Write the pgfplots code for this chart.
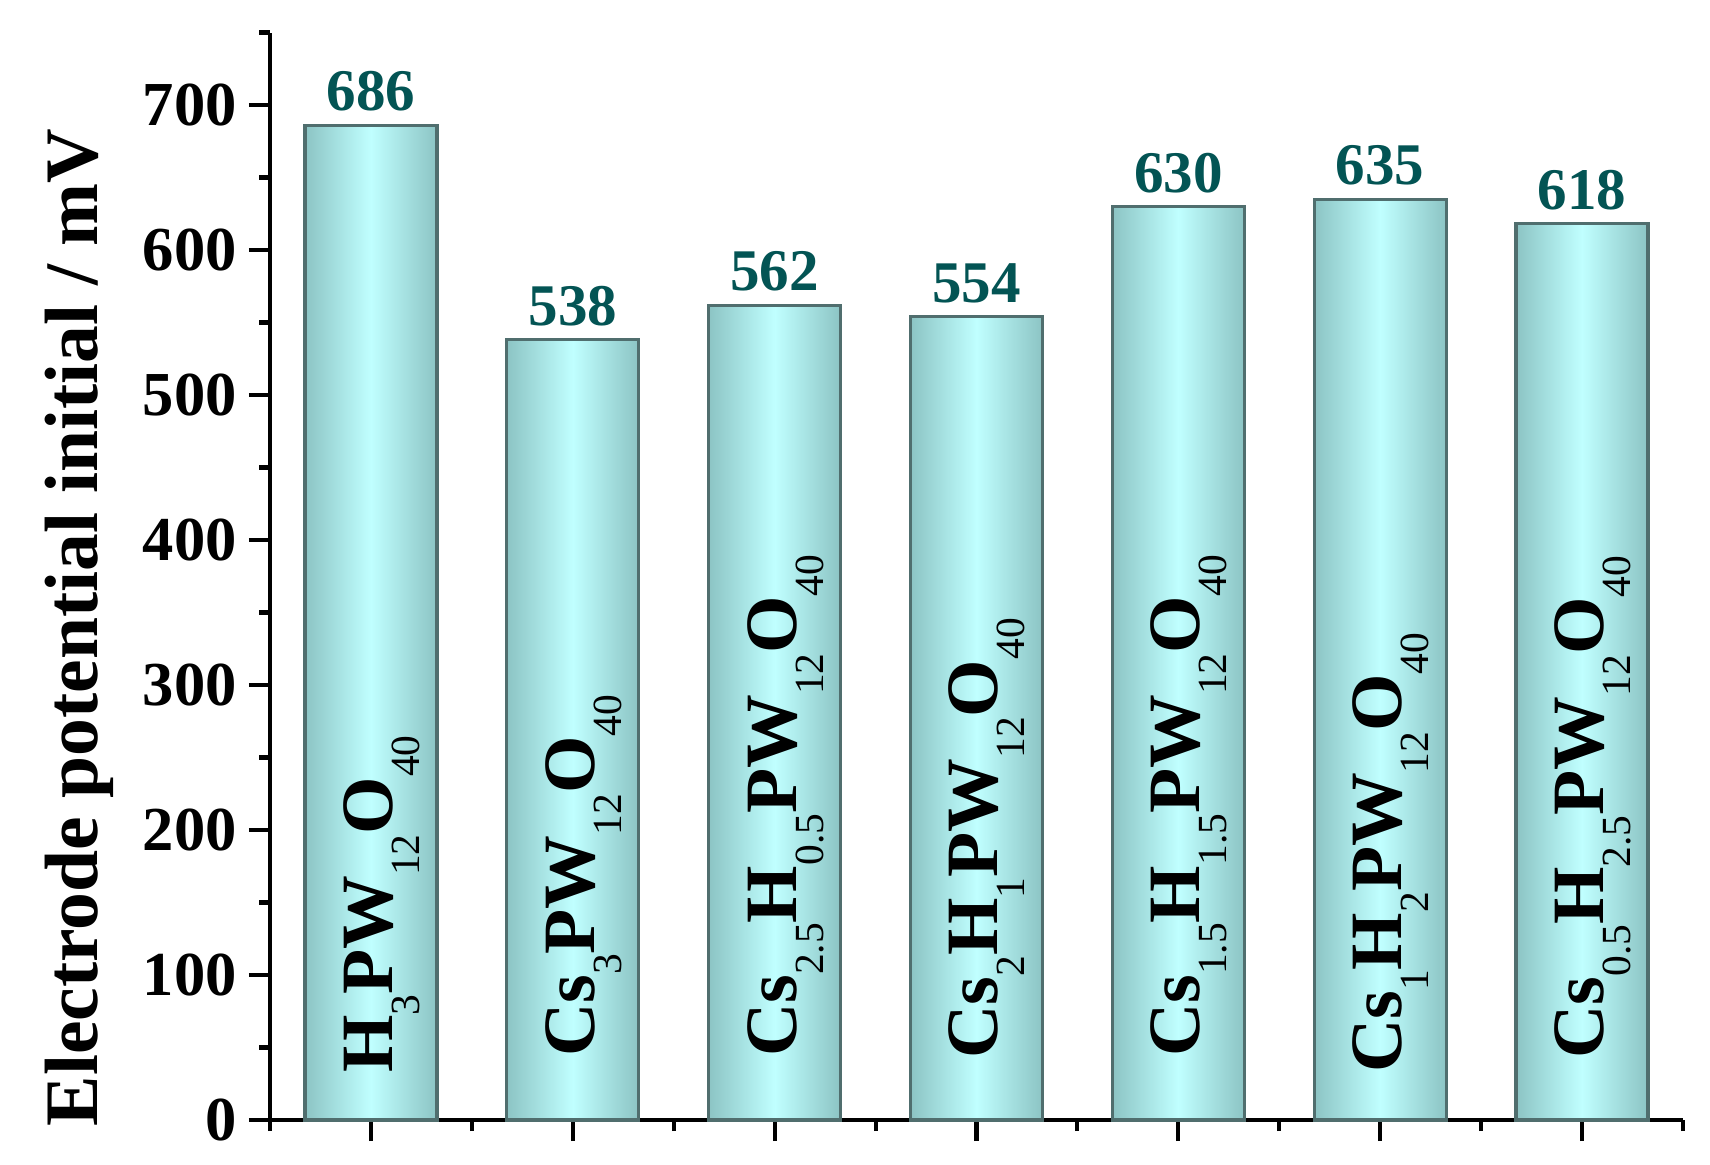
\documentclass[border=0pt]{standalone}
\usepackage{fontspec}
\setmainfont{Liberation Serif}
\usepackage{pgfplots}
\pgfplotsset{compat=1.18}
\definecolor{barlo}{RGB}{140,196,196}
\definecolor{barhi}{RGB}{192,255,255}
\definecolor{baredge}{RGB}{80,110,110}
\definecolor{valcol}{RGB}{3,84,84}
\newcommand\sub[1]{\raisebox{-0.27cm}{\fontsize{11.8}{12}\selectfont\mdseries #1}}
\newcommand\blab{\fontsize{21}{24}\selectfont\bfseries}
\pgfplotsset{mybar/.style={ybar, bar shift=0pt, bar width=1.32cm, draw=baredge, line width=0.9pt,
  left color=barlo, right color=barlo, middle color=barhi}}
\begin{document}
\begin{tikzpicture}
\begin{axis}[
  at={(0,0)}, anchor=south west,
  width=14.13cm, height=10.875cm, scale only axis,
  xmin=-0.5, xmax=6.5, ymin=0, ymax=750,
  axis x line*=bottom, axis y line*=left,
  axis line style={-, line width=1.15pt, black},
  xtick={0,...,6}, xticklabels={}, minor xtick={-0.5,0.5,...,6.5},
  ytick={0,100,...,700}, minor ytick={50,150,...,750},
  tick align=outside,
  major tick length=0.21cm, minor tick length=0.11cm,
  every tick/.style={line width=1.15pt, black},
  /pgf/number format/assume math mode=true,
  yticklabel style={font=\fontsize{17.8}{20}\selectfont\bfseries},
  ylabel={Electrode potential initial / mV},
  ylabel style={font=\fontsize{21.5}{24}\selectfont\bfseries, at={(axis description cs:-0.1224,0.453)}, anchor=base},
  nodes near coords,
  every node near coord/.append style={font=\fontsize{16.8}{18}\selectfont\bfseries, text=valcol, anchor=south, inner sep=0pt, yshift=3.5pt},
  clip=false,
]
\addplot[mybar] coordinates {(0,686)};
\addplot[mybar] coordinates {(1,538)};
\addplot[mybar] coordinates {(2,562)};
\addplot[mybar] coordinates {(3,554)};
\addplot[mybar] coordinates {(4,630)};
\addplot[mybar] coordinates {(5,635)};
\addplot[mybar] coordinates {(6,618)};
\node[rotate=90, anchor=base west, inner sep=0pt] at (axis cs:0.1065,32) {\blab H\sub{3}PW\sub{12}O\sub{40}};
\node[rotate=90, anchor=base west, inner sep=0pt] at (axis cs:1.1065,43) {\blab Cs\sub{3}PW\sub{12}O\sub{40}};
\node[rotate=90, anchor=base west, inner sep=0pt] at (axis cs:2.1065,43) {\blab Cs\sub{2.5}H\sub{0.5}PW\sub{12}O\sub{40}};
\node[rotate=90, anchor=base west, inner sep=0pt] at (axis cs:3.1065,42) {\blab Cs\sub{2}H\sub{1}PW\sub{12}O\sub{40}};
\node[rotate=90, anchor=base west, inner sep=0pt] at (axis cs:4.1065,43) {\blab Cs\sub{1.5}H\sub{1.5}PW\sub{12}O\sub{40}};
\node[rotate=90, anchor=base west, inner sep=0pt] at (axis cs:5.1065,32) {\blab Cs\sub{1}H\sub{2}PW\sub{12}O\sub{40}};
\node[rotate=90, anchor=base west, inner sep=0pt] at (axis cs:6.1065,42) {\blab Cs\sub{0.5}H\sub{2.5}PW\sub{12}O\sub{40}};
\end{axis}
\pgfresetboundingbox
\path[use as bounding box] (-2.70,-0.44) rectangle (14.40,11.20);
\end{tikzpicture}
\end{document}
